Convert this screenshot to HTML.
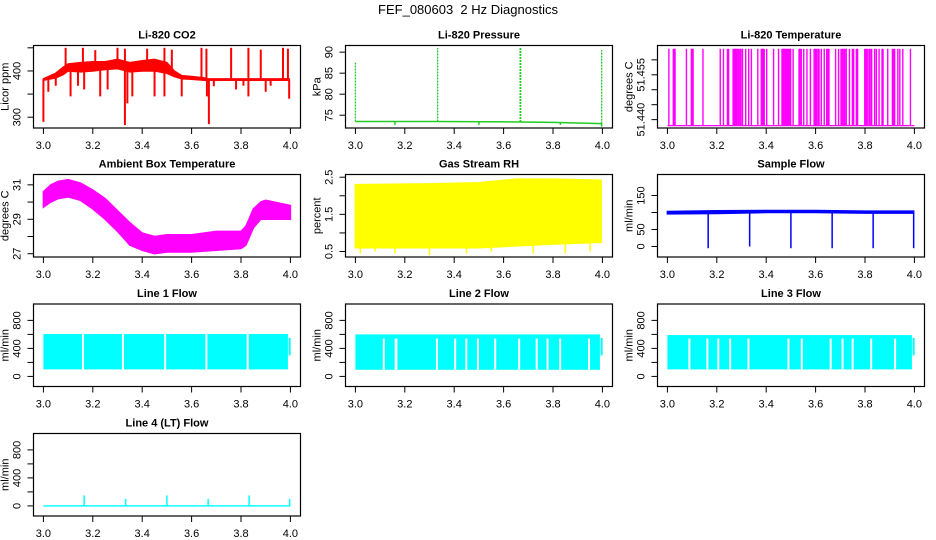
<!DOCTYPE html>
<html><head><meta charset="utf-8"><style>
html,body{margin:0;padding:0;background:#fff;}
svg{display:block;font-family:"Liberation Sans",Arial,sans-serif;}
</style></head><body>
<svg id="fig" width="936" height="540" viewBox="0 0 936 540">
<text x="468" y="14" text-anchor="middle" font-size="13" style="white-space:pre">FEF_080603  2 Hz Diagnostics</text>
</svg>
<script>
// ---- data ----
const xTicks=[3.0,3.2,3.4,3.6,3.8,4.0];
const xTickLabels=["3.0","3.2","3.4","3.6","3.8","4.0"];
// CO2
const co2EnvT=[3.00,3.05,3.08,3.10,3.15,3.20,3.25,3.30,3.35,3.40,3.45,3.50,3.53,3.56,3.60,3.65,3.66,3.995];
const co2EnvLo=[380,385,392,400,398,400,403,405,398,400,400,395,388,383,382,380,380,380];
const co2EnvHi=[383,395,408,415,418,420,420,425,418,422,425,418,400,390,388,385,383,383];
const co2SpikeT=[3.09,3.16,3.21,3.30,3.33,3.42,3.49,3.52,3.64,3.66,3.76,3.83,3.88,3.97,3.99,3.00,3.02,3.05,3.11,3.14,3.165,3.23,3.26,3.33,3.34,3.36,3.45,3.49,3.56,3.67,3.662,3.69,3.78,3.81,3.83,3.90,3.92,3.995];
const co2SpikeV=[450,450,445,450,448,448,450,446,450,448,450,450,446,450,448,290,355,368,345,368,360,345,360,283,330,345,345,345,345,285,345,367,360,368,345,355,368,340];
// Pressure
const presBaseT=[3.0,3.33,3.67,3.8,3.997];
const presBaseV=[73.5,73.5,73.4,73.3,73.0];
const presSpikeT=[3.0,3.333,3.667,3.669,3.997];
const presSpikeV=[87.5,91,91,91,90.5];
const presDipT=[3.16,3.5,3.83,3.997];
const presDipV=[72.7,72.7,72.7,72.3];
// Li-820 temperature
const tempBase=51.438;
const tempTop=51.4637;
const tempSpikeT=[3.006,3.024,3.028,3.031,3.077,3.097,3.101,3.104,3.144,3.214,3.227,3.243,3.248,3.266,3.270,3.274,3.278,3.282,3.287,3.293,3.298,3.304,3.317,3.329,3.340,3.366,3.380,3.384,3.388,3.392,3.402,3.430,3.450,3.464,3.468,3.472,3.476,3.480,3.484,3.488,3.492,3.497,3.499,3.509,3.533,3.537,3.542,3.552,3.565,3.579,3.594,3.599,3.604,3.610,3.614,3.623,3.635,3.645,3.650,3.654,3.681,3.693,3.703,3.708,3.714,3.718,3.724,3.737,3.749,3.754,3.765,3.770,3.799,3.804,3.809,3.816,3.821,3.827,3.839,3.846,3.857,3.869,3.873,3.892,3.911,3.915,3.920,3.933,3.941,3.953,3.984];
// Ambient box temperature
const ambT=[3.00,3.03,3.06,3.10,3.15,3.20,3.25,3.30,3.35,3.40,3.45,3.50,3.60,3.70,3.80,3.82,3.85,3.88,3.90,4.00];
const ambLo=[29.7,30.0,30.2,30.3,30.1,29.6,29.0,28.3,27.5,27.2,27.0,27.1,27.1,27.2,27.3,27.5,28.5,29.0,29.0,29.0];
const ambHi=[30.6,31.0,31.2,31.3,31.1,30.7,30.2,29.5,28.8,28.2,28.0,28.1,28.1,28.3,28.3,28.6,29.6,30.0,30.1,29.8];
// Gas stream RH
const rhT=[3.0,3.3,3.5,3.65,3.8,3.995];
const rhLo=[0.6,0.6,0.6,0.65,0.7,0.75];
const rhHi=[2.3,2.32,2.35,2.45,2.45,2.42];
const rhDipT=[3.02,3.08,3.16,3.3,3.45,3.55,3.72,3.85,3.95];
const rhDipV=[0.45,0.5,0.45,0.4,0.45,0.5,0.45,0.45,0.5];
// Sample flow
const sfT=[3.0,3.2,3.4,3.6,3.8,3.997];
const sfLo=[96,97,100,100,98,98];
const sfHi=[103,105,106,106,104,104];
const sfDipT=[3.165,3.333,3.5,3.667,3.833,3.997];
const sfDipV=[-5,0,-5,-5,-5,-5];
// Line flows
const l1Lo=100, l1Hi=605;
const l1GapT=[3.160,3.322,3.493,3.660,3.827];
const l2Lo=95, l2Hi=600, l2GapTop=540;
const l2GapT=[3.115,3.163,3.166,3.330,3.404,3.449,3.496,3.566,3.663,3.734,3.778,3.829,3.946];
const l3Lo=100, l3Hi=590, l3GapTop=540;
const l3GapT=[3.089,3.162,3.206,3.254,3.328,3.490,3.544,3.661,3.709,3.750,3.825,3.922];
const l4Lo=-10, l4Hi=10;
const l4SpikeT=[3.165,3.333,3.5,3.667,3.833,3.997];
const l4SpikeV=[150,100,150,100,150,100];

// ---- layout ----
const svg=document.getElementById('fig');
const NS='http://www.w3.org/2000/svg';
const colLeft=[33.5,345.5,657.5], boxW=267;
const rowTop=[45.5,174.5,304,433.5], boxH=82.5;
function el(tag,attrs,parent){const e=document.createElementNS(NS,tag);for(const k in attrs)e.setAttribute(k,attrs[k]);(parent||svg).appendChild(e);return e;}
function panel(cfg){
  const g=el('g',{});
  
  
  const L=colLeft[cfg.col],T=rowTop[cfg.row];
  const sx=t=>L+9.9+(t-3)*247;
  const sy=v=>T+boxH-(v-cfg.ymin)/(cfg.ymax-cfg.ymin)*boxH;
  const marks=el('g',{},g);
  
  
  cfg.draw(marks,sx,sy);
  const box=el('rect',{x:L,y:T,width:boxW,height:boxH,fill:'none',stroke:'#000','stroke-width':1.2},g);
  
  
  const tt=el('text',{x:L+boxW/2,y:T-7,'text-anchor':'middle','font-size':11,'font-weight':'bold'},g);
  tt.textContent=cfg.title;
  
  
  const xa=el('g',{},g);
  
  
  el('line',{x1:sx(3),x2:sx(4),y1:T+boxH,y2:T+boxH,stroke:'#000'},xa);
  xTicks.forEach((t,i)=>{
    el('line',{x1:sx(t),x2:sx(t),y1:T+boxH,y2:T+boxH+6,stroke:'#000'},xa);
    const tx=el('text',{x:sx(t),y:T+boxH+21,'text-anchor':'middle','font-size':11},xa);
    tx.textContent=xTickLabels[i];
  });
  const ya=el('g',{},g);
  
  
  cfg.ticks.forEach((v,i)=>{
    el('line',{x1:L-6,x2:L,y1:sy(v),y2:sy(v),stroke:'#000'},ya);
    if(cfg.labels[i]){
      const ty=el('text',{x:L-13,y:sy(v),'text-anchor':'middle','font-size':11,transform:`rotate(-90 ${L-13} ${sy(v)})`},ya);
      ty.textContent=cfg.labels[i];
    }
  });
  const yl=el('text',{x:L-25,y:T+boxH/2,'text-anchor':'middle','font-size':11,transform:`rotate(-90 ${L-25} ${T+boxH/2})`},g);
  yl.textContent=cfg.ylab;
  
  
}
function band(g,sx,sy,T,lo,hi,color){
  let pts=T.map((t,i)=>sx(t)+','+sy(hi[i]));
  for(let i=T.length-1;i>=0;i--)pts.push(sx(T[i])+','+sy(lo[i]));
  el('polygon',{points:pts.join(' '),fill:color,stroke:color,'stroke-width':1.5},g);
}
function interp(T,V,t){if(t<=T[0])return V[0];for(let i=1;i<T.length;i++){if(t<=T[i]){const f=(t-T[i-1])/(T[i]-T[i-1]);return V[i-1]+f*(V[i]-V[i-1]);}}return V[V.length-1];}

panel({name:'co2-panel',title:'Li-820 CO2',ylab:'Licor ppm',col:0,row:0,ymin:276.7,ymax:455,ticks:[300,350,400,450],labels:['300','','400',''],
 draw:(g,sx,sy)=>{
  band(g,sx,sy,co2EnvT,co2EnvLo,co2EnvHi,'#ff0000');
  co2SpikeT.forEach((t,i)=>{const b=(interp(co2EnvT,co2EnvLo,t)+interp(co2EnvT,co2EnvHi,t))/2;
    el('line',{x1:sx(t),x2:sx(t),y1:sy(b),y2:sy(co2SpikeV[i]),stroke:'#ff0000','stroke-width':2},g);});
 }});
panel({name:'pressure-panel',title:'Li-820 Pressure',ylab:'kPa',col:1,row:0,ymin:71.96,ymax:91.58,ticks:[75,80,85,90],labels:['75','80','85','90'],
 draw:(g,sx,sy)=>{
  el('polyline',{points:presBaseT.map((t,i)=>sx(t)+','+sy(presBaseV[i])).join(' '),fill:'none',stroke:'#22cc22','stroke-width':1.5},g);
  presSpikeT.forEach((t,i)=>el('line',{x1:sx(t),x2:sx(t),y1:sy(interp(presBaseT,presBaseV,t)),y2:sy(presSpikeV[i]),stroke:'#22cc22','stroke-width':1.3,'stroke-dasharray':'2 1'},g));
  presDipT.forEach((t,i)=>el('line',{x1:sx(t),x2:sx(t),y1:sy(interp(presBaseT,presBaseV,t)),y2:sy(presDipV[i]),stroke:'#22cc22','stroke-width':1.5},g));
 }});
panel({name:'li820-temperature-panel',title:'Li-820 Temperature',ylab:'degrees C',col:2,row:0,ymin:51.4372,ymax:51.4648,ticks:[51.440,51.445,51.450,51.455,51.460],labels:['51.440','','','51.455',''],
 draw:(g,sx,sy)=>{
  el('line',{x1:sx(3.0),x2:sx(4.0),y1:sy(tempBase),y2:sy(tempBase),stroke:'#ff00ff','stroke-width':1.3},g);
  tempSpikeT.forEach(t=>el('line',{x1:sx(t),x2:sx(t),y1:sy(tempBase),y2:sy(tempTop),stroke:'#ff00ff','stroke-width':1.4},g));
 }});
panel({name:'ambient-temperature-panel',title:'Ambient Box Temperature',ylab:'degrees C',col:0,row:1,ymin:26.81,ymax:31.6,ticks:[27,28,29,30,31],labels:['27','','29','','31'],
 draw:(g,sx,sy)=>band(g,sx,sy,ambT,ambLo,ambHi,'#ff00ff')});
panel({name:'gas-rh-panel',title:'Gas Stream RH',ylab:'percent',col:1,row:1,ymin:0.352,ymax:2.573,ticks:[0.5,1.0,1.5,2.0,2.5],labels:['0.5','','1.5','','2.5'],
 draw:(g,sx,sy)=>{band(g,sx,sy,rhT,rhLo,rhHi,'#ffff00');
  rhDipT.forEach((t,i)=>el('line',{x1:sx(t),x2:sx(t),y1:sy(interp(rhT,rhLo,t)),y2:sy(rhDipV[i]),stroke:'#ffff00','stroke-width':1.5},g));}});
panel({name:'sample-flow-panel',title:'Sample Flow',ylab:'ml/min',col:2,row:1,ymin:-30.9,ymax:211.8,ticks:[0,50,100,150],labels:['0','50','','150'],
 draw:(g,sx,sy)=>{band(g,sx,sy,sfT,sfLo,sfHi,'#0000ff');
  sfDipT.forEach((t,i)=>el('line',{x1:sx(t),x2:sx(t),y1:sy(interp(sfT,sfLo,t)),y2:sy(sfDipV[i]),stroke:'#0000ff','stroke-width':1.5},g));}});
function flowPanel(name,title,col,row,lo,hi,gaps,gapTop){
 panel({name,title,ylab:'ml/min',col,row,ymin:-144,ymax:1034,ticks:[0,200,400,600,800],labels:['0','','400','','800'],
  draw:(g,sx,sy)=>{
   el('rect',{x:sx(3.0),y:sy(hi),width:sx(3.99)-sx(3.0),height:sy(lo)-sy(hi),fill:'#00ffff'},g);
   el('rect',{x:sx(3.993),y:sy(550),width:2,height:sy(300)-sy(550),fill:'#00ffff'},g);
   gaps.forEach(t=>el('rect',{x:sx(t)-1,y:sy(gapTop),width:2,height:sy(lo)-sy(gapTop),fill:'#fff'},g));
  }});
}
flowPanel('line1-flow-panel','Line 1 Flow',0,2,l1Lo,l1Hi,l1GapT,l1Hi);
flowPanel('line2-flow-panel','Line 2 Flow',1,2,l2Lo,l2Hi,l2GapT,l2GapTop);
flowPanel('line3-flow-panel','Line 3 Flow',2,2,l3Lo,l3Hi,l3GapT,l3GapTop);
panel({name:'line4-flow-panel',title:'Line 4 (LT) Flow',ylab:'ml/min',col:0,row:3,ymin:-144,ymax:1034,ticks:[0,200,400,600,800],labels:['0','','400','','800'],
 draw:(g,sx,sy)=>{
  el('rect',{x:sx(3.0),y:sy(l4Hi),width:sx(4.0)-sx(3.0),height:sy(l4Lo)-sy(l4Hi),fill:'#00ffff'},g);
  l4SpikeT.forEach((t,i)=>el('line',{x1:sx(t),x2:sx(t),y1:sy(0),y2:sy(l4SpikeV[i]),stroke:'#00ffff','stroke-width':1.5},g));
 }});
</script>
</body></html>
